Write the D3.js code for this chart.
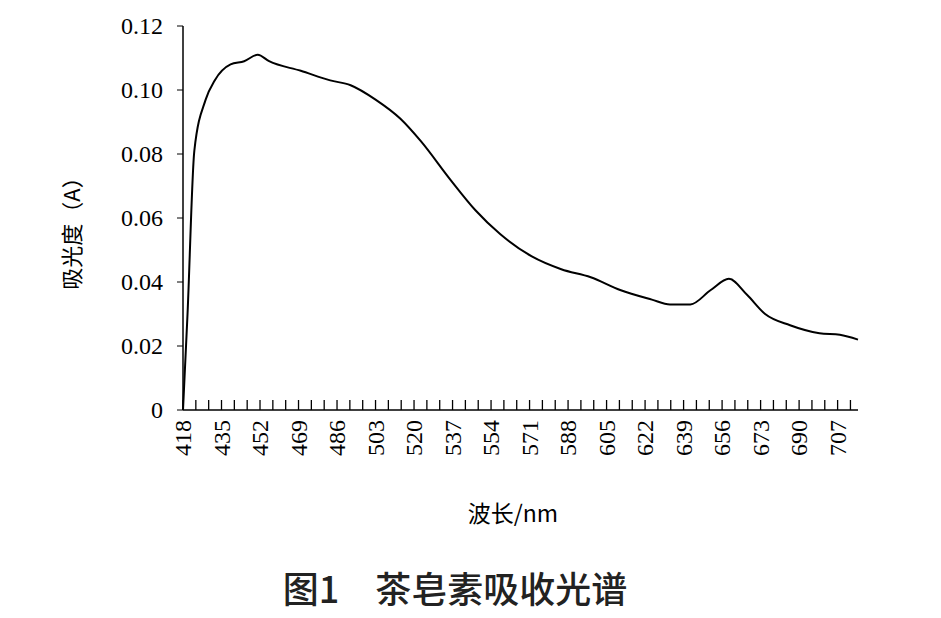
<!DOCTYPE html>
<html><head><meta charset="utf-8">
<script src="https://cdn.jsdelivr.net/npm/d3@7"></script>
<style>body{margin:0;background:#fff} .num{font-family:"Liberation Serif","DejaVu Serif",serif}</style></head>
<body><svg id="c" width="941" height="618"></svg>
<script>
const wavelength = [418,420,423,428,432,439,445,451,456,470,483,492,503,514,523,536,547,558,572,585,598,611,625,633,642,651,659,667,675,686,699,708,716];
const absorbance = [0,0.03,0.081,0.097,0.103,0.108,0.109,0.111,0.109,0.106,0.103,0.1015,0.097,0.091,0.084,0.072,0.0625,0.055,0.048,0.044,0.0415,0.0375,0.0345,0.033,0.033,0.0375,0.041,0.036,0.030,0.0265,0.024,0.0235,0.022];
const xLabels = [418,435,452,469,486,503,520,537,554,571,588,605,622,639,656,673,690,707];
const yTicks = [0,0.02,0.04,0.06,0.08,0.10,0.12];

const svg = d3.select("#c");
const x = d3.scaleLinear().domain([418,716]).range([183,858]);
const y = d3.scaleLinear().domain([0,0.12]).range([410,26]);

// y axis
svg.append("line").attr("x1",183).attr("x2",183).attr("y1",26).attr("y2",410).attr("stroke","#000").attr("stroke-width",1.5);
yTicks.forEach(v => {
  svg.append("line").attr("x1",177).attr("x2",183).attr("y1",y(v)).attr("y2",y(v)).attr("stroke","#000");
  svg.append("text").attr("class","num").attr("x",163).attr("y",y(v)+8).attr("text-anchor","end")
    .attr("font-size",24).text(v===0?"0":v.toFixed(2));
});
// x axis
svg.append("line").attr("x1",183).attr("x2",858).attr("y1",410).attr("y2",410).attr("stroke","#000").attr("stroke-width",1.5);
for (let t = 418; t <= 716; t += 17/3) {
  svg.append("line").attr("x1",x(t)).attr("x2",x(t)).attr("y1",400).attr("y2",410).attr("stroke","#000").attr("stroke-width",1.3);
}
xLabels.forEach(v => {
  svg.append("text").attr("class","num").attr("transform",`translate(${x(v)+8},420) rotate(-90)`).attr("text-anchor","end")
    .attr("font-size",24).text(v);
});

svg.append("path").datum(wavelength.map((w,i)=>[w,absorbance[i]]))
  .attr("d", d3.line().x(d=>x(d[0])).y(d=>y(d[1])).curve(d3.curveMonotoneX))
  .attr("fill","none").attr("stroke","#000").attr("stroke-width",2);

svg.append("text").attr("transform","translate(80,228) rotate(-90)").attr("text-anchor","middle")
  .attr("font-family","Noto Sans CJK SC").attr("font-size",22).text("吸光度（A）");
svg.append("text").attr("x",513).attr("y",522).attr("text-anchor","middle")
  .attr("font-family","Noto Sans CJK SC").attr("font-size",23).text("波长/nm");
svg.append("text").attr("x",455).attr("y",603).attr("text-anchor","middle").attr("fill","#222")
  .attr("font-family","Noto Sans CJK SC").attr("font-size",36).attr("font-weight",500).attr("xml:space","preserve").text("图1　茶皂素吸收光谱");
</script></body></html>
